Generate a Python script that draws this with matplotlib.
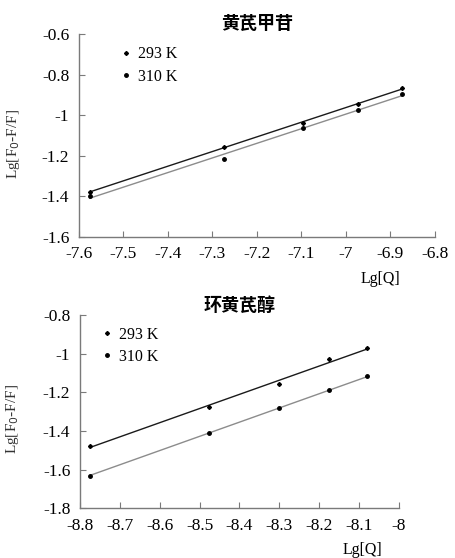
import numpy as np
import matplotlib
matplotlib.use("Agg")
import matplotlib.pyplot as plt
from matplotlib.ticker import FuncFormatter

# 黄芪甲苷 (top panel)
top_title = "黄芪甲苷"
top_x = [-7.576, -7.273, -7.097, -6.973, -6.874]
top_293 = [-1.378, -1.158, -1.037, -0.943, -0.867]
top_310 = [-1.397, -1.214, -1.065, -0.972, -0.895]
top_xticks = [-7.6, -7.5, -7.4, -7.3, -7.2, -7.1, -7.0, -6.9, -6.8]
top_yticks = [-1.6, -1.4, -1.2, -1.0, -0.8, -0.6]

# 环黄芪醇 (bottom panel)
bot_title = "环黄芪醇"
bot_x = [-8.776, -8.477, -8.300, -8.175, -8.079]
bot_293 = [-1.476, -1.278, -1.157, -1.029, -0.972]
bot_310 = [-1.631, -1.409, -1.283, -1.190, -1.117]
bot_xticks = [-8.8, -8.7, -8.6, -8.5, -8.4, -8.3, -8.2, -8.1, -8.0]
bot_yticks = [-1.8, -1.6, -1.4, -1.2, -1.0, -0.8]

labels = ["293 K", "310 K"]
ylabel = r"Lg[F$_{0}$-F/F]"
xlabel = "Lg[Q]"

spine_color = "#7a7a7a"


def fmt(v, pos):
    return "%g" % round(v, 2)


def draw(ax, title, x, y293, y310, xticks, yticks, legend_anchor, xlabel_xy,
         ylabel_x, title_pad):
    x = np.array(x)
    # trend lines (least squares), drawn across the data range
    for ys, col in ((y310, "#8c8c8c"), (y293, "#1a1a1a")):
        k, b = np.polyfit(x, ys, 1)
        ax.plot(x, k * x + b, color=col, lw=1.0, zorder=2)
    ax.plot(x, y293, ls="none", marker="D", ms=2.0, color="black",
            label=labels[0], zorder=3)
    ax.plot(x, y310, ls="none", marker="o", ms=2.5, color="black",
            label=labels[1], zorder=3)

    ax.set_xlim(xticks[0], xticks[-1])
    ax.set_ylim(yticks[0], yticks[-1])
    ax.set_xticks(xticks)
    ax.set_yticks(yticks)
    ax.xaxis.set_major_formatter(FuncFormatter(fmt))
    ax.yaxis.set_major_formatter(FuncFormatter(fmt))
    for lab in ax.get_xticklabels() + ax.get_yticklabels():
        lab.set_fontfamily("Liberation Serif")
        lab.set_fontsize(12.5)
    ax.tick_params(direction="in", length=4, width=0.8, color=spine_color,
                   pad=7)
    for s in ("top", "right"):
        ax.spines[s].set_visible(False)
    for s in ("left", "bottom"):
        ax.spines[s].set_color(spine_color)
        ax.spines[s].set_linewidth(1.0)

    ax.set_title(title, fontsize=13, fontweight="bold",
                 family=["Noto Sans CJK SC", "DejaVu Sans"], pad=title_pad)
    ax.set_xlabel(xlabel, family="Liberation Serif", fontsize=11.5)
    ax.xaxis.set_label_coords(*xlabel_xy)
    ax.set_ylabel(ylabel, family="Liberation Serif", fontsize=11,
                  color="#333333")
    ax.yaxis.set_label_coords(ylabel_x, 0.46)

    ax.legend(loc="upper left", bbox_to_anchor=legend_anchor, frameon=False,
              prop={"family": "Liberation Serif", "size": 11.5},
              handlelength=0.6, handletextpad=0.45, labelspacing=0.4,
              borderpad=0.0, borderaxespad=0.0)


fig = plt.figure(figsize=(4.55, 5.58), dpi=100)
ax1 = fig.add_axes([0.1736, 0.5758, 0.7824, 0.3627])
ax2 = fig.add_axes([0.1758, 0.0891, 0.7010, 0.3464])

draw(ax1, top_title, top_x, top_293, top_310, top_xticks, top_yticks,
     (0.12, 0.94), (0.846, -0.17), -0.16, 4)
draw(ax2, bot_title, bot_x, bot_293, bot_310, bot_xticks, bot_yticks,
     (0.07, 0.94), (0.887, -0.174), -0.185, 2)

fig.savefig("out.png", dpi=100)
